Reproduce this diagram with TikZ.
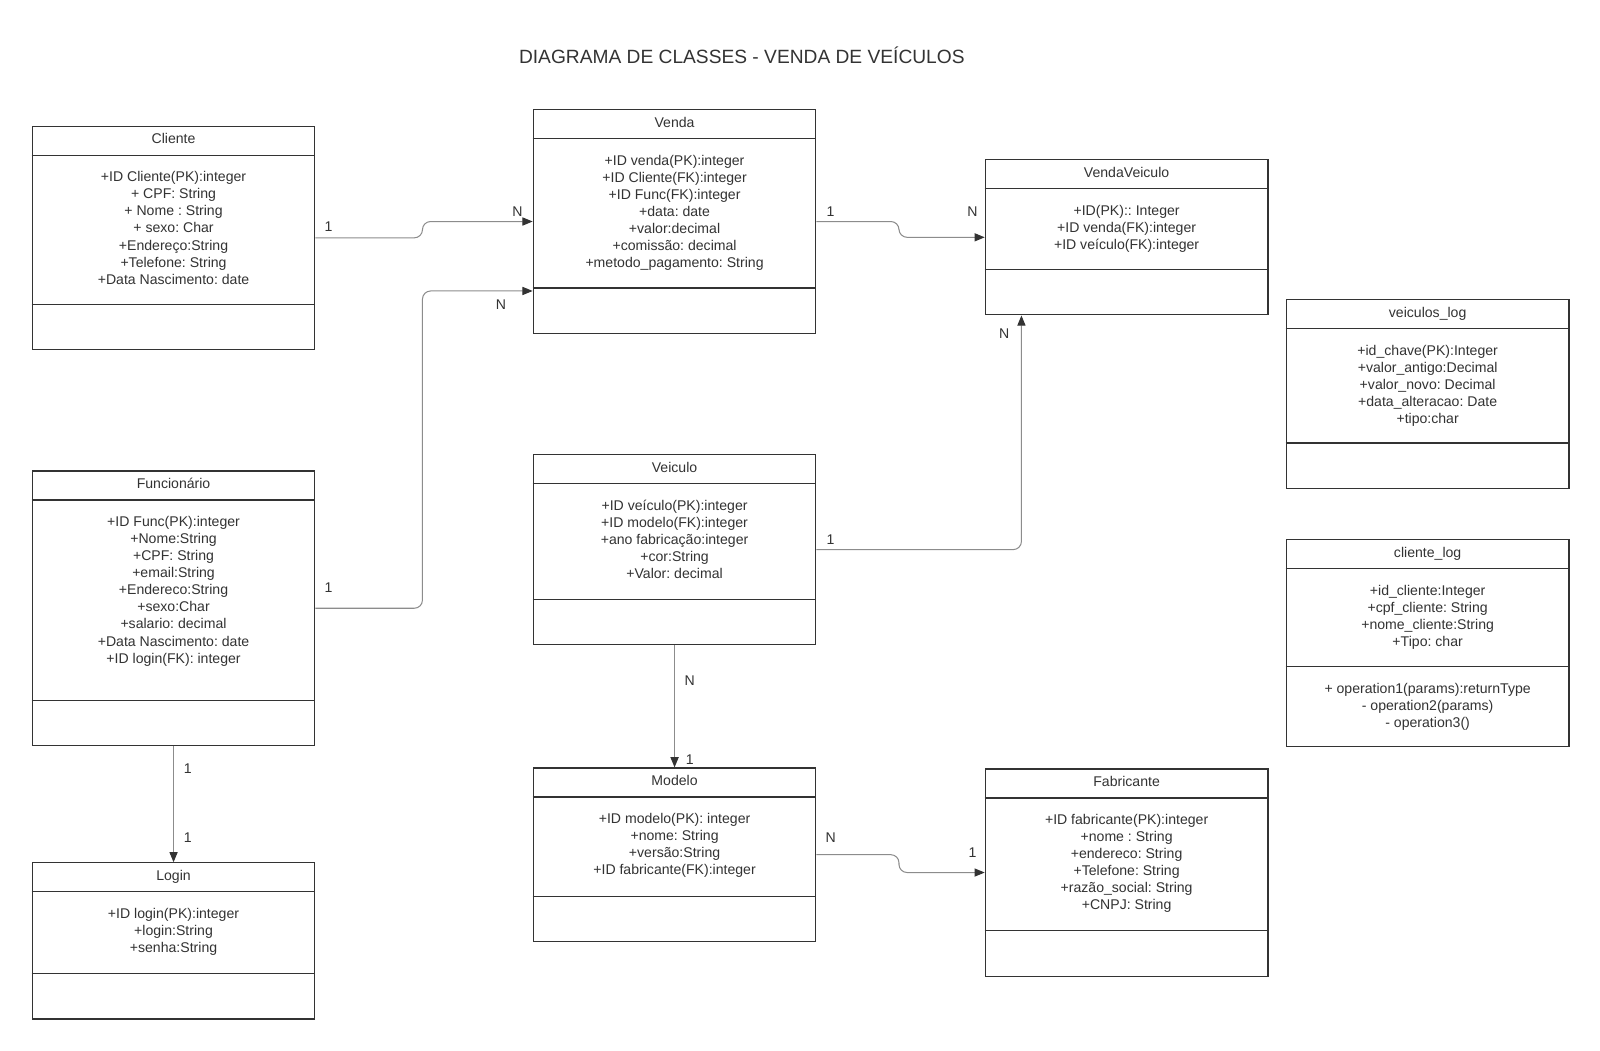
\documentclass[tikz,border=0pt]{standalone}
\usepackage{fontspec}
\setmainfont{Liberation Sans}
\usetikzlibrary{arrows.meta}
\definecolor{boxline}{HTML}{333333}
\definecolor{conline}{HTML}{8C8C8C}
\definecolor{txt}{HTML}{333333}
\frenchspacing

\begin{document}
\begin{tikzpicture}[x=1pt, y=-1pt,
		classbox/.style={draw=boxline, line width=1.15pt, minimum width=277pt, anchor=north west, inner sep=0pt},
		sep/.style={draw=boxline, line width=1.15pt},
		title/.style={font=\fontsize{13.8}{16.7}\selectfont, text=txt, inner sep=0pt, anchor=base},
		attr/.style={font=\fontsize{13.8}{16.7}\selectfont, text=txt, align=center, inner sep=0pt, anchor=north},
		card/.style={font=\fontsize{13.8}{16.7}\selectfont, text=txt, inner sep=0pt},
		conn/.style={draw=conline, line width=1pt, rounded corners=8pt, -{Triangle[length=10pt, width=8pt, color=boxline]}}]
			\def \head{ 29pt };
			\def \foot{ 45pt };
			\fill[white] (0,0) rectangle (1568,1029);
			\useasboundingbox (0,0) rectangle (1568,1029);
			\node[font=\fontsize{18.8}{22}\selectfont, text=txt, inner sep=0pt, anchor=base] (diagtitle) at (727,62) {DIAGRAMA DE CLASSES - VENDA DE VEÍCULOS};
			\node[classbox, minimum height=219pt] (cliente) at (31,123) {};
			\node[classbox, minimum height=219pt] (venda) at (522,107) {};
			\node[classbox, minimum height=152pt] (vendaveiculo) at (965,156) {};
			\node[classbox, minimum height=185pt] (veiculoslog) at (1260,293) {};
			\node[classbox, minimum height=269pt] (funcionario) at (31,461) {};
			\node[classbox, minimum height=186pt] (veiculo) at (522,445) {};
			\node[classbox, minimum height=203pt] (clientelog) at (1260,528) {};
			\node[classbox, minimum height=153pt] (login) at (31,845) {};
			\node[classbox, minimum height=170pt] (modelo) at (522,752) {};
			\node[classbox, minimum height=203pt] (fabricante) at (965,753) {};
			\foreach \c in {cliente,venda,vendaveiculo,veiculoslog,funcionario,veiculo,login,modelo,fabricante}
				\draw[sep] ([yshift=-\head]\c.north west) -- ([yshift=-\head]\c.north east)
					([yshift=\foot]\c.south west) -- ([yshift=\foot]\c.south east);
			\draw[sep] ([yshift=-\head]clientelog.north west) -- ([yshift=-\head]clientelog.north east)
				([yshift=79pt]clientelog.south west) -- ([yshift=79pt]clientelog.south east);
			\node[title] (clientet) at ([yshift=-18pt]cliente.north) {Cliente};
			\node[title] (vendat) at ([yshift=-18pt]venda.north) {Venda};
			\node[title] (vendaveiculot) at ([yshift=-18pt]vendaveiculo.north) {VendaVeiculo};
			\node[title] (veiculoslogt) at ([yshift=-18pt]veiculoslog.north) {veiculos\_log};
			\node[title] (funcionariot) at ([yshift=-18pt]funcionario.north) {Funcionário};
			\node[title] (veiculot) at ([yshift=-18pt]veiculo.north) {Veiculo};
			\node[title] (clientelogt) at ([yshift=-18pt]clientelog.north) {cliente\_log};
			\node[title] (logint) at ([yshift=-18pt]login.north) {Login};
			\node[title] (modelot) at ([yshift=-18pt]modelo.north) {Modelo};
			\node[title] (fabricantet) at ([yshift=-18pt]fabricante.north) {Fabricante};
			\node[attr] (clientea) at ([yshift=-45pt]cliente.north) {+ID Cliente(PK):integer\\+ CPF: String\\+ Nome : String\\+ sexo: Char\\+Endereço:String\\+Telefone: String\\+Data Nascimento: date};
			\node[attr] (vendaa) at ([yshift=-45pt]venda.north) {+ID venda(PK):integer\\+ID Cliente(FK):integer\\+ID Func(FK):integer\\+data: date\\+valor:decimal\\+comissão: decimal\\+metodo\_pagamento: String};
			\node[attr] (vendaveiculoa) at ([yshift=-45pt]vendaveiculo.north) {+ID(PK):: Integer\\+ID venda(FK):integer\\+ID veículo(FK):integer};
			\node[attr] (veiculosloga) at ([yshift=-45pt]veiculoslog.north) {+id\_chave(PK):Integer\\+valor\_antigo:Decimal\\+valor\_novo: Decimal\\+data\_alteracao: Date\\+tipo:char};
			\node[attr] (funcionarioa) at ([yshift=-45pt]funcionario.north) {+ID Func(PK):integer\\+Nome:String\\+CPF: String\\+email:String\\+Endereco:String\\+sexo:Char\\+salario: decimal\\+Data Nascimento: date\\+ID login(FK): integer};
			\node[attr] (veiculoa) at ([yshift=-45pt]veiculo.north) {+ID veículo(PK):integer\\+ID modelo(FK):integer\\+ano fabricação:integer\\+cor:String\\+Valor: decimal};
			\node[attr] (clienteloga) at ([yshift=-45pt]clientelog.north) {+id\_cliente:Integer\\+cpf\_cliente: String\\+nome\_cliente:String\\+Tipo: char};
			\node[attr] (clientelogo) at ([yshift=-141pt]clientelog.north) {+ operation1(params):returnType\\- operation2(params)\\- operation3()};
			\node[attr] (logina) at ([yshift=-45pt]login.north) {+ID login(PK):integer\\+login:String\\+senha:String};
			\node[attr] (modeloa) at ([yshift=-45pt]modelo.north) {+ID modelo(PK): integer\\+nome: String\\+versão:String\\+ID fabricante(FK):integer};
			\node[attr] (fabricantea) at ([yshift=-45pt]fabricante.north) {+ID fabricante(PK):integer\\+nome : String\\+endereco: String\\+Telefone: String\\+razão\_social: String\\+CNPJ: String};
			\draw[conn] (cliente.east) -| ([xshift=-108pt]venda.west) -- (venda.west);
			\draw[conn] (funcionario.east) -| ([xshift=-108pt, yshift=42pt]venda.south west) -- ([yshift=42pt]venda.south west);
			\draw[conn] (venda.east) -| ([xshift=-84pt]vendaveiculo.west) -- (vendaveiculo.west);
			\draw[conn] (veiculo.east) -| ([xshift=36pt]vendaveiculo.south west);
			\draw[conn] (veiculo.south) -- (modelo.north);
			\draw[conn] (funcionario.south) -- (login.north);
			\draw[conn] (modelo.east) -| ([xshift=-84pt]fabricante.west) -- (fabricante.west);
			\node[card] (c1) at (322,222) {1};
			\node[card] (c2) at (507,207) {N};
			\node[card] (f1) at (322,576) {1};
			\node[card] (f2) at (491,299) {N};
			\node[card] (v1) at (814,207) {1};
			\node[card] (v2) at (953,207) {N};
			\node[card] (e1) at (814,529) {1};
			\node[card] (e2) at (984,327) {N};
			\node[card] (m1) at (676,667) {N};
			\node[card] (m2) at (676,744) {1};
			\node[card] (l1) at (184,753) {1};
			\node[card] (l2) at (184,821) {1};
			\node[card] (a1) at (814,821) {N};
			\node[card] (a2) at (953,836) {1};
		\end{tikzpicture}
\end{document}
